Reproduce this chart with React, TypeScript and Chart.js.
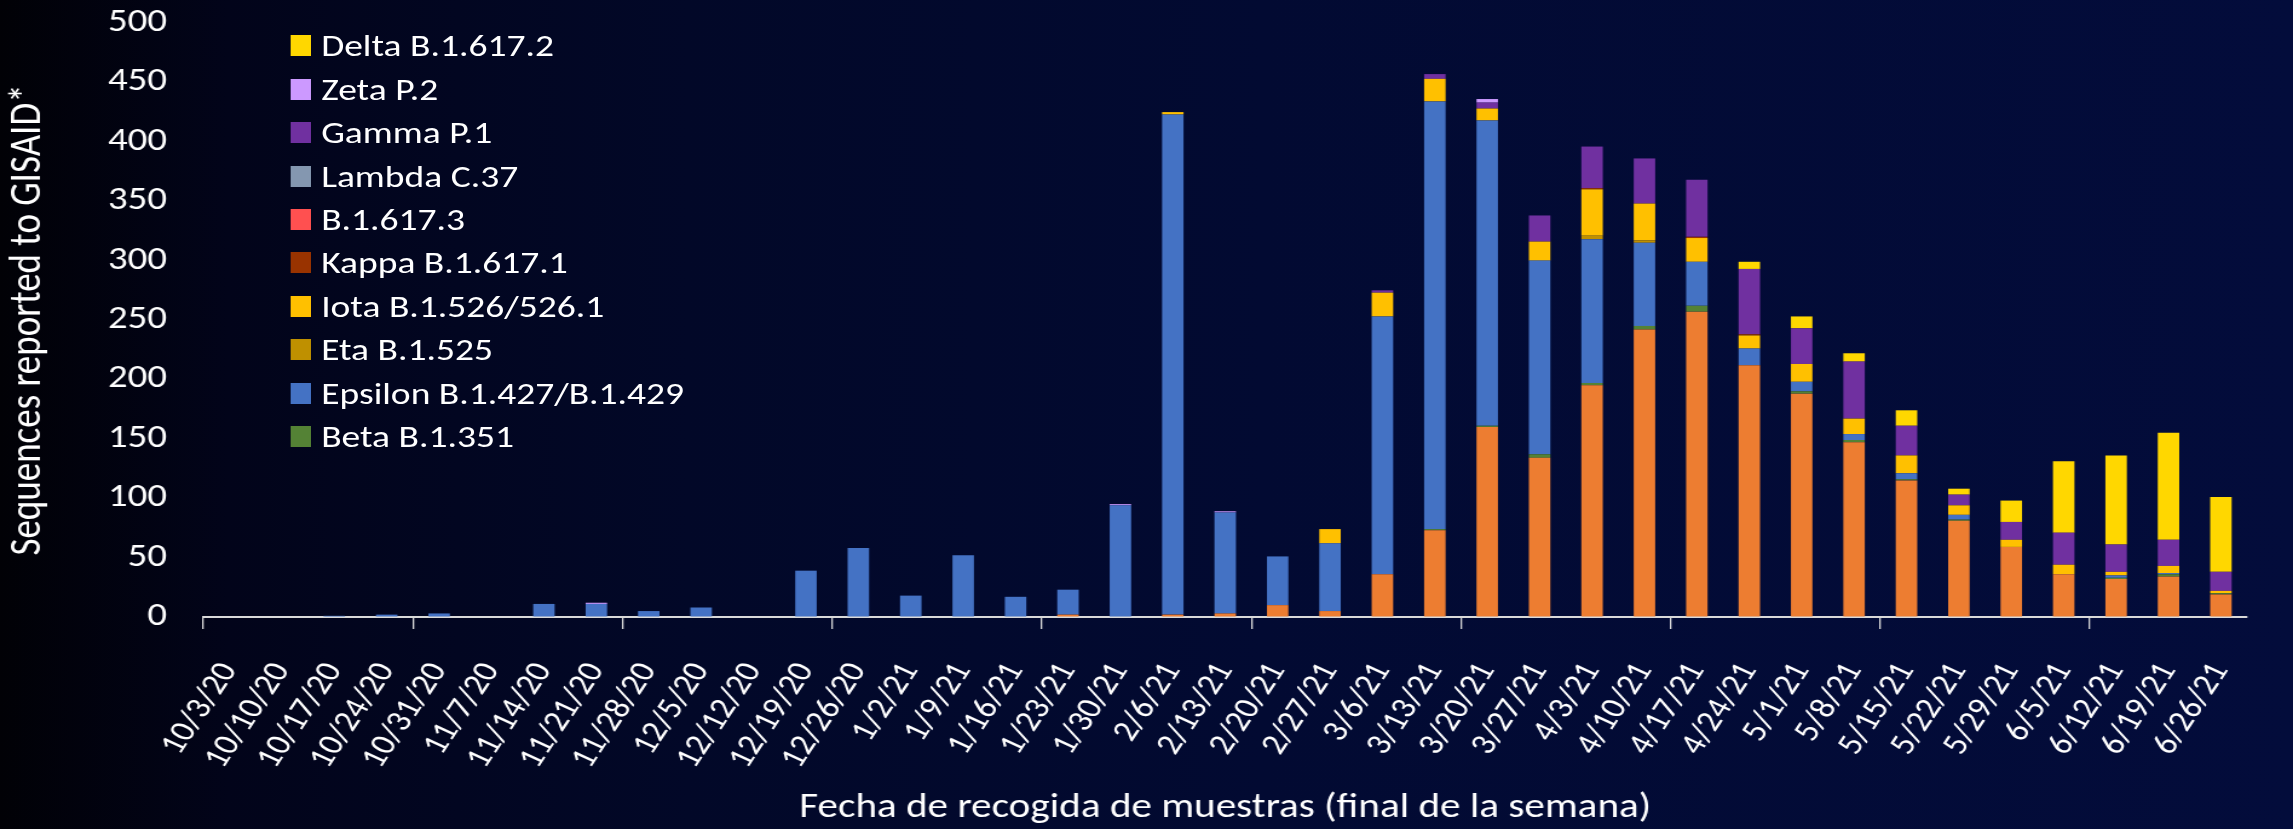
import React, { useEffect, useRef } from "react";
import { Chart, registerables } from "chart.js";

Chart.register(...registerables);

const categories = [
  "10/3/20", "10/10/20", "10/17/20", "10/24/20", "10/31/20", "11/7/20", "11/14/20", "11/21/20",
  "11/28/20", "12/5/20", "12/12/20", "12/19/20", "12/26/20", "1/2/21", "1/9/21", "1/16/21",
  "1/23/21", "1/30/21", "2/6/21", "2/13/21", "2/20/21", "2/27/21", "3/6/21", "3/13/21",
  "3/20/21", "3/27/21", "4/3/21", "4/10/21", "4/17/21", "4/24/21", "5/1/21", "5/8/21",
  "5/15/21", "5/22/21", "5/29/21", "6/5/21", "6/12/21", "6/19/21", "6/26/21",
];

const alpha = [0,0,0,0,0,0,0,0,0,0,0,0,0,0,0,0,2,0,2,3,10,5,36,73,160,134,195,242,257,212,188,147,115,81,59,36,32,34,19];
const beta = [0,0,0,0,0,0,0,0,0,0,0,0,0,0,0,0,0,0,0,0,0,0,0,1,1,3,2,3,5,0,2,2,1,1,0,0,1,2,1];
const epsilon = [0,0,1,2,3,0,11,11,5,8,0,39,58,18,52,17,21,94,421,85,41,57,217,360,257,163,121,70,37,14,8,5,5,4,0,0,2,1,0];
const eta = [0,0,0,0,0,0,0,0,0,0,0,0,0,0,0,0,0,0,0,0,0,0,0,0,0,0,3,2,0,0,0,0,0,0,0,0,0,0,0];
const iota = [0,0,0,0,0,0,0,0,0,0,0,0,0,0,0,0,0,0,2,0,0,12,20,19,10,16,39,31,20,11,15,13,15,8,6,8,3,6,2];
const kappa = [0,0,0,0,0,0,0,0,0,0,0,0,0,0,0,0,0,0,0,0,0,0,0,0,0,0,1,0,1,1,0,0,0,0,0,0,0,0,0];
const b16173 = [0,0,0,0,0,0,0,0,0,0,0,0,0,0,0,0,0,0,0,0,0,0,0,0,0,0,0,0,0,0,0,0,0,0,0,0,0,0,0];
const lambda = [0,0,0,0,0,0,0,0,0,0,0,0,0,0,0,0,0,0,0,0,0,0,0,0,0,0,0,0,0,0,0,0,0,0,0,0,0,0,0];
const gamma = [0,0,0,0,0,0,0,0,0,0,0,0,0,0,0,0,0,0,0,0,0,0,2,4,5,22,35,38,48,55,30,48,25,9,15,27,23,22,16];
const zeta = [0,0,0,0,0,0,0,1,0,0,0,0,0,0,0,0,0,1,0,1,0,0,0,0,3,0,0,0,0,0,0,0,0,0,0,0,0,0,0];
const delta = [0,0,0,0,0,0,0,0,0,0,0,0,0,0,0,0,0,0,0,0,0,0,0,0,0,0,0,0,0,6,10,7,13,5,18,60,75,90,63];

const yTicks = [0, 50, 100, 150, 200, 250, 300, 350, 400, 450, 500];

// bottom-to-top stacking order
const series = [
  { label: "Alpha B.1.1.7", data: alpha, color: "#ED7D31", legend: false },
  { label: "Beta B.1.351", data: beta, color: "#548235", legend: true },
  { label: "Epsilon B.1.427/B.1.429", data: epsilon, color: "#4472C4", legend: true },
  { label: "Eta B.1.525", data: eta, color: "#BF9000", legend: true },
  { label: "Iota B.1.526/526.1", data: iota, color: "#FFC000", legend: true },
  { label: "Kappa B.1.617.1", data: kappa, color: "#993300", legend: true },
  { label: "B.1.617.3", data: b16173, color: "#FF5050", legend: true },
  { label: "Lambda C.37", data: lambda, color: "#8497B0", legend: true },
  { label: "Gamma P.1", data: gamma, color: "#7030A0", legend: true },
  { label: "Zeta P.2", data: zeta, color: "#CC99FF", legend: true },
  { label: "Delta B.1.617.2", data: delta, color: "#FFD700", legend: true },
];

const FONT = "Carlito, Calibri, Lato, sans-serif";
const OUT_W = 2293;
const H = 829;
const STRETCH = 1.21;
const W = Math.round(OUT_W / STRETCH); // inner drawing width, stretched horizontally
const PLOT_LEFT = 168;
const PLOT_TOP = 23;
const PLOT_BOTTOM = 617;
const PLOT_RIGHT = 1888;

export default function App() {
  const ref = useRef<HTMLCanvasElement | null>(null);

  useEffect(() => {
    document.body.style.margin = "0";
    const canvas = ref.current;
    if (!canvas) return;
    const chart = new Chart(canvas, {
      type: "bar",
      data: {
        labels: categories,
        datasets: series.map((s) => ({
          label: s.label,
          data: s.data,
          backgroundColor: s.color,
          borderWidth: 0,
          categoryPercentage: 1,
          barPercentage: 0.41,
        })),
      },
      options: {
        responsive: false,
        animation: false,
        layout: { padding: { top: PLOT_TOP, right: W - PLOT_RIGHT, left: 0, bottom: 0 } },
        plugins: {
          legend: { display: false },
          tooltip: { enabled: false },
        },
        scales: {
          x: {
            stacked: true,
            offset: true,
            grid: {
              offset: true,
              drawOnChartArea: false,
              drawTicks: true,
              tickLength: 12,
              lineWidth: 1.3,
              color: (ctx: any) => (ctx.index % 4 === 0 ? "#D9D9D9" : "rgba(0,0,0,0)"),
            },
            border: { display: true, color: "#D9D9D9", width: 2 },
            ticks: {
              color: "#FFFFFF",
              font: { family: FONT, size: 30 },
              maxRotation: 61,
              minRotation: 61,
              autoSkip: false,
              padding: 28,
            },
            title: {
              display: true,
              text: "Fecha de recogida de muestras (final de la semana)",
              color: "#FFFFFF",
              font: { family: FONT, size: 34 },
              padding: { top: 0, bottom: 0 },
            },
            afterFit: (scale: any) => {
              scale.height = H - PLOT_BOTTOM;
            },
          },
          y: {
            stacked: true,
            min: 0,
            max: 500,
            afterBuildTicks: (scale: any) => {
              scale.ticks = yTicks.map((v) => ({ value: v }));
            },
            grid: {
              display: true,
              drawOnChartArea: false,
              drawTicks: true,
              tickLength: 30,
              color: "rgba(0,0,0,0)",
            },
            border: { display: false },
            ticks: {
              color: "#FFFFFF",
              font: { family: FONT, size: 32 },
              padding: 0,
            },
            title: {
              display: true,
              text: "Sequences reported to GISAID*",
              color: "#FFFFFF",
              font: { family: FONT, size: 37 },
              padding: { top: 2, bottom: 0 },
            },
            afterFit: (scale: any) => {
              scale.width = PLOT_LEFT;
            },
          },
        },
      },
    });
    return () => chart.destroy();
  }, []);

  const legendItems = series.filter((s) => s.legend).slice().reverse();

  return (
    <div
      style={{
        position: "fixed",
        left: 0,
        top: 0,
        width: OUT_W,
        height: H,
        overflow: "hidden",
        background:
          "linear-gradient(to right, #010106 0%, #02041a 10%, #020828 30%, #020a32 55%, #030c3b 100%)",
      }}
    >
      <div
        style={{
          position: "absolute",
          left: 0,
          top: 0,
          width: W,
          height: H,
          transform: `scaleX(${OUT_W / W})`,
          transformOrigin: "0 0",
        }}
      >
        <canvas ref={ref} width={W} height={H} style={{ position: "absolute", left: 0, top: 0 }} />
        <div style={{ position: "absolute", left: 240, top: 24 }}>
          {legendItems.map((s) => (
            <div key={s.label} style={{ display: "flex", alignItems: "center", height: 43.45 }}>
              <div style={{ width: 17.4, height: 21, background: s.color, marginRight: 8 }} />
              <span
                style={{
                  color: "#FFFFFF",
                  fontFamily: FONT,
                  fontSize: 31,
                  lineHeight: "43px",
                  whiteSpace: "nowrap",
                }}
              >
                {s.label}
              </span>
            </div>
          ))}
        </div>
      </div>
    </div>
  );
}
